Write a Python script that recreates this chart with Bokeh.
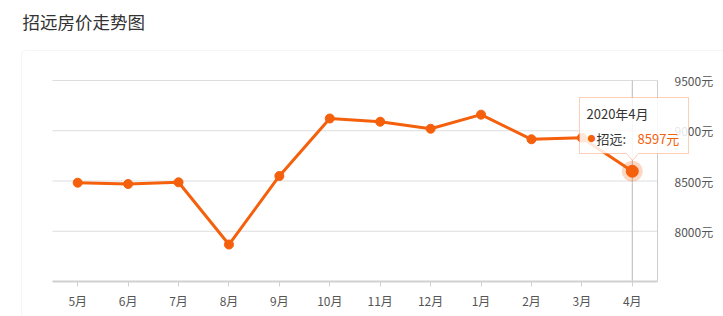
from bokeh.plotting import figure
from bokeh.models import (Label, BoxAnnotation, PolyAnnotation, FixedTicker,
                          PrintfTickFormatter, LinearAxis, Range1d)
from bokeh.embed import file_html
from bokeh.resources import INLINE

# ---- data ----
months = ["5月", "6月", "7月", "8月", "9月", "10月", "11月", "12月", "1月", "2月", "3月", "4月"]
prices = [8483, 8470, 8487, 7868, 8550, 9122, 9090, 9020, 9160, 8915, 8930, 8597]
y_ticks = [8000, 8500, 9000, 9500]
y_min, y_max = 7500, 9500
title_text = "招远房价走势图"
tip_date = "2020年4月"
tip_city = "招远:"
tip_value = f"{prices[-1]}元"

# ---- layout constants (pixels) ----
W, H = 723, 316
PL, PR, PT, PB = 52, 657, 80, 281          # plotting area inside the canvas
ORANGE = "#f4600c"
FONT = "Noto Sans CJK SC"

n = len(months)
xs = list(range(n))
pxu = (PR - PL) / n                          # px per category
ypx = (y_max - y_min) / (PB - PT)            # value per px
x_range = Range1d(-0.5 - PL / pxu, n - 0.5 + (W - PR) / pxu)
y_range = Range1d(y_min - (H - PB) * ypx, y_max + PT * ypx)

p = figure(width=W, height=H, x_range=x_range, y_range=y_range,
           output_backend="svg", toolbar_location=None, title=None,
           x_axis_location=None, y_axis_location=None,
           min_border=0, min_border_left=0, min_border_right=0,
           min_border_top=0, min_border_bottom=0)
p.outline_line_color = None
p.background_fill_color = "white"
p.border_fill_color = "white"
p.xgrid.visible = False
p.ygrid.visible = False

# container box and title
p.add_layout(BoxAnnotation(left=21, right=W + 20, top=H - 50, bottom=-20,
                           left_units="screen", right_units="screen",
                           top_units="screen", bottom_units="screen",
                           fill_alpha=0, line_color="#dddddd", line_width=1,
                           border_radius=4, level="underlay"))
p.add_layout(Label(x=22, y=H - 21, x_units="screen", y_units="screen", text=title_text,
                   text_font=FONT, text_font_size="17.5px", text_color="#333333",
                   text_baseline="middle", text_align="left"))

# horizontal grid lines
p.segment(x0=[-0.5] * len(y_ticks), x1=[n - 0.5] * len(y_ticks), y0=y_ticks, y1=y_ticks,
          line_color="#dddddd", line_width=1)

# bottom axis
xa = LinearAxis(fixed_location=y_min, bounds=(-0.5, n - 0.5),
                ticker=FixedTicker(ticks=xs),
                major_label_overrides={i: m for i, m in enumerate(months)})
xa.axis_line_color = "#d0d0d0"
xa.axis_line_width = 2
xa.major_tick_line_color = "#d0d0d0"
xa.major_tick_out = 5
xa.major_tick_in = 0
xa.minor_tick_line_color = None
xa.major_label_standoff = 5
xa.major_label_text_font = FONT
xa.major_label_text_font_size = "12px"
xa.major_label_text_color = "#555555"
p.add_layout(xa, "below")

# right axis
ya = LinearAxis(fixed_location=n - 0.5, bounds=(y_min, y_max),
                ticker=FixedTicker(ticks=y_ticks),
                formatter=PrintfTickFormatter(format="%d元"))
ya.axis_line_color = "#cccccc"
ya.major_tick_line_color = None
ya.minor_tick_line_color = None
ya.major_label_standoff = 11
ya.major_label_text_font = FONT
ya.major_label_text_font_size = "12px"
ya.major_label_text_color = "#555555"
p.add_layout(ya, "right")

# crosshair at the hovered month
p.segment(x0=[xs[-1]], x1=[xs[-1]], y0=[y_min], y1=[y_max],
          line_color="#bbbbbb", line_width=1)

# series
p.line(xs, prices, line_color=ORANGE, line_width=3)
p.scatter(xs[:-1], prices[:-1], size=9, fill_color=ORANGE, line_color=ORANGE)
p.scatter([xs[-1]], [prices[-1]], size=21, fill_color=ORANGE, fill_alpha=0.25, line_color=None)
p.scatter([xs[-1]], [prices[-1]], size=12, fill_color=ORANGE, line_color=ORANGE)

# tooltip (screen units, y from bottom of canvas)
L, R, T, B = 579, 688, H - 97, H - 153
cx, tip = 632, H - 160
p.add_layout(PolyAnnotation(xs=[L, R, R, cx + 6, cx, cx - 6, L],
                            ys=[T, T, B, B, tip, B, B],
                            xs_units="screen", ys_units="screen",
                            fill_color="white", fill_alpha=0.85,
                            line_color=ORANGE, line_width=1))
p.add_layout(Label(x=586, y=H - 113, x_units="screen", y_units="screen", text=tip_date,
                   text_font=FONT, text_font_size="13px", text_color="#333333",
                   text_baseline="middle"))
p.add_layout(Label(x=587, y=H - 138, x_units="screen", y_units="screen", text="●",
                   text_font=FONT, text_font_size="8px", text_color=ORANGE,
                   text_baseline="middle"))
p.add_layout(Label(x=596, y=H - 138, x_units="screen", y_units="screen", text=tip_city,
                   text_font=FONT, text_font_size="13px", text_color="#333333",
                   text_baseline="middle"))
p.add_layout(Label(x=637, y=H - 138, x_units="screen", y_units="screen", text=tip_value,
                   text_font=FONT, text_font_size="13px", text_color=ORANGE,
                   text_baseline="middle"))

open("out.html", "w").write(file_html(p, INLINE))
